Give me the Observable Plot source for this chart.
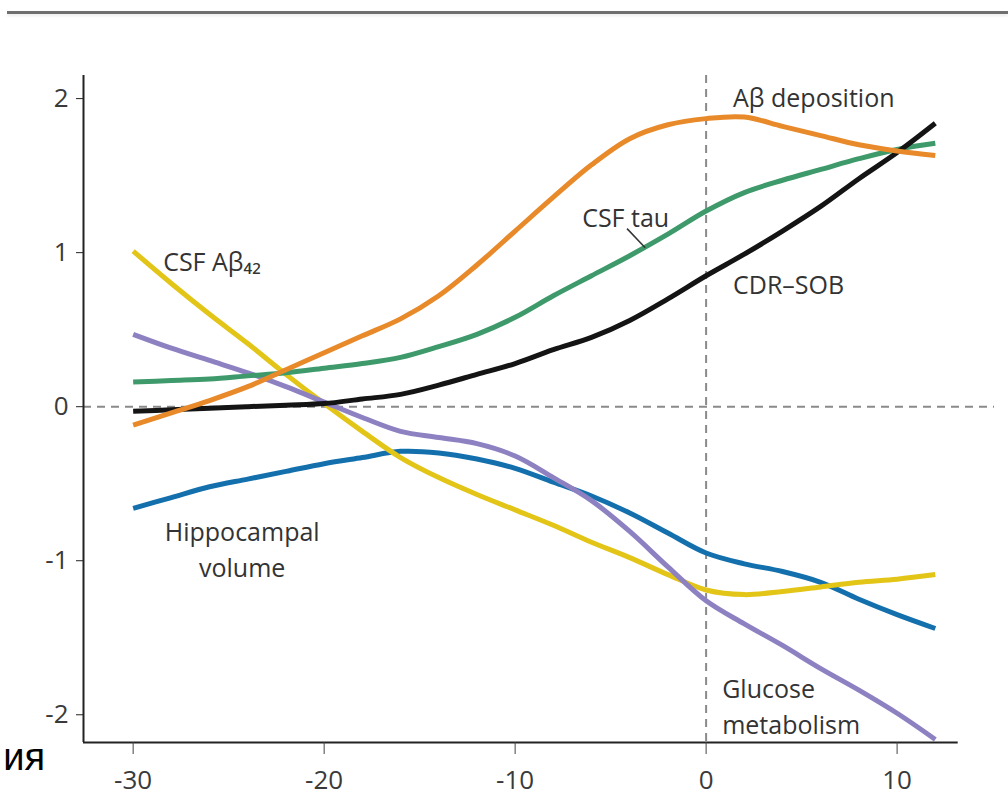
<!DOCTYPE html>
<html>
<head>
<meta charset="utf-8">
<script src="https://cdn.jsdelivr.net/npm/d3@7"></script>
<script src="https://cdn.jsdelivr.net/npm/@observablehq/plot@0.6"></script>
<style>
  html, body { margin: 0; padding: 0; background: #fff; }
  #wrap { position: relative; width: 1008px; height: 812px; overflow: hidden; }
  #topbar { position: absolute; left: 7px; right: 0; top: 11px; height: 3px; background: #6f6f6f; box-shadow: 0 2px 3px rgba(0,0,0,0.08); }
  #overlay { position: absolute; left: 0; top: 0; pointer-events: none; }
</style>
</head>
<body>
<div id="wrap">
  <div id="chart"></div>
  <div id="topbar"></div>
  <svg id="overlay" width="1008" height="812">
    <text x="45" y="770" text-anchor="end" font-family="Liberation Sans, Arial, sans-serif" font-size="38" fill="#000">ия</text>
  </svg>
</div>
<script>
// Years relative to expected symptom onset
const years = [-30,-28,-26,-24,-22,-20,-18,-16,-14,-12,-10,-8,-6,-4,-2,0,2,4,6,8,10,12];

// Standardized differences
const abDeposition = [-0.12,-0.04,0.04,0.13,0.24,0.35,0.46,0.57,0.72,0.92,1.14,1.36,1.57,1.74,1.83,1.87,1.88,1.82,1.76,1.70,1.66,1.63];
const csfTau       = [0.16,0.17,0.18,0.20,0.22,0.25,0.28,0.32,0.39,0.47,0.58,0.72,0.85,0.98,1.12,1.27,1.39,1.47,1.54,1.61,1.67,1.71];
const cdrSob       = [-0.03,-0.02,-0.01,0.00,0.01,0.02,0.05,0.08,0.14,0.21,0.28,0.37,0.45,0.56,0.70,0.85,0.99,1.14,1.30,1.48,1.65,1.84];
const glucose      = [0.47,0.38,0.30,0.22,0.13,0.03,-0.07,-0.16,-0.20,-0.24,-0.32,-0.46,-0.61,-0.81,-1.04,-1.26,-1.41,-1.55,-1.70,-1.84,-1.99,-2.16];
const hippocampal  = [-0.66,-0.59,-0.52,-0.47,-0.42,-0.37,-0.33,-0.29,-0.30,-0.34,-0.40,-0.49,-0.58,-0.69,-0.82,-0.95,-1.02,-1.07,-1.14,-1.25,-1.35,-1.44];
const csfAb42      = [1.01,0.80,0.60,0.41,0.21,0.02,-0.16,-0.33,-0.46,-0.57,-0.67,-0.77,-0.88,-0.98,-1.09,-1.19,-1.22,-1.20,-1.17,-1.14,-1.12,-1.09];

const seriesNames  = ["Hippocampal volume","CSF Aβ42","Glucose metabolism","CSF tau","CDR-SOB","Aβ deposition"];
const seriesValues = [hippocampal, csfAb42, glucose, csfTau, cdrSob, abDeposition];
const seriesColors = ["#1370ad","#e2c516","#8e81c2","#3e9a6b","#141414","#e88a2a"];

const xTicks = [-30,-20,-10,0,10];
const yTicks = [-2,-1,0,1,2];

// Annotation labels
const labelText = ["Aβ deposition","CSF tau","CSF Aβ₄₂","CDR–SOB","Glucose\nmetabolism"];
const labelX    = [1.41,-6.49,-28.43,1.41,0.84];
const labelY    = [2.02,1.24,0.955,0.805,-1.93];
const hippoLabel = {text: "Hippocampal\nvolume", x: -24.29, y: -0.916};
const tauLeader = [{x1: -4.14, y1: 1.156, x2: -3.19, y2: 1.032}];

const xDomain = [-32.6, 15.1];
const yDomain = [-2.18, 2.15];
const xAxisEnd = 13.2;

const table = seriesNames.flatMap((name, i) => years.map((yr, j) => ({series: name, year: yr, value: seriesValues[i][j]})));
const labels = labelText.map((t, i) => ({text: t, x: labelX[i], y: labelY[i]}));

const chart = Plot.plot({
  width: 1008,
  height: 812,
  marginLeft: 83,
  marginRight: 14,
  marginTop: 75,
  marginBottom: 70,
  x: {domain: xDomain},
  y: {domain: yDomain},
  color: {domain: seriesNames, range: seriesColors},
  style: {fontFamily: "'Open Sans', sans-serif", background: "transparent", color: "#333"},
  marks: [
    Plot.ruleY([0], {stroke: "#8a8a8a", strokeWidth: 2, strokeDasharray: "8,6"}),
    Plot.ruleX([0], {stroke: "#8a8a8a", strokeWidth: 2, strokeDasharray: "8,6"}),
    Plot.line(table, {x: "year", y: "value", z: "series", stroke: "series", strokeWidth: 5, curve: "catmull-rom", strokeLinecap: "butt"}),
    Plot.ruleX([xDomain[0]], {stroke: "#222", strokeWidth: 2}),
    Plot.ruleY([yDomain[0]], {x1: xDomain[0], x2: xAxisEnd, stroke: "#222", strokeWidth: 2}),
    Plot.axisX({ticks: xTicks, tickSize: 12, tickPadding: 16, tickFormat: d => String(d), fontSize: 26, stroke: "#444", fill: "#3a3a3a"}),
    Plot.axisY({ticks: yTicks, tickSize: 7, tickPadding: 8, tickFormat: d => String(d), fontSize: 26, stroke: "#222", fill: "#3a3a3a"}),
    Plot.link(tauLeader, {x1: "x1", y1: "y1", x2: "x2", y2: "y2", stroke: "#333", strokeWidth: 1.5}),
    Plot.text(labels, {x: "x", y: "y", text: "text", textAnchor: "start", fontSize: 25, fill: "#333", lineHeight: 1.44}),
    Plot.text([hippoLabel], {x: "x", y: "y", text: "text", textAnchor: "middle", fontSize: 25, fill: "#333", lineHeight: 1.44})
  ]
});
document.getElementById("chart").appendChild(chart);
</script>
</body>
</html>
